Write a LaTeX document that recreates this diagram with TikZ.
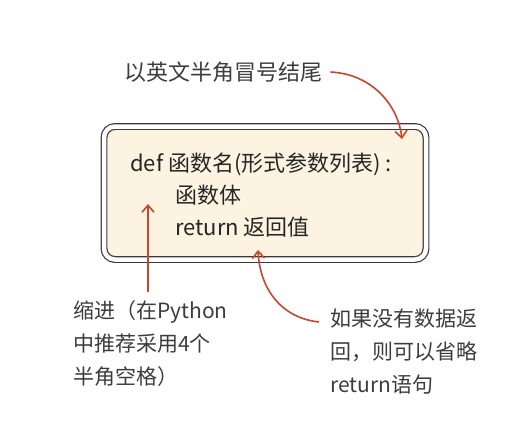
\documentclass[tikz,border=0pt]{standalone}
\usepackage{fontspec}
\setmainfont{Noto Sans CJK SC}
\usetikzlibrary{arrows.meta}
\definecolor{cream}{HTML}{FCF4E0}
\definecolor{frameg}{HTML}{3A3A3A}
\definecolor{notegray}{HTML}{3C3C3C}
\definecolor{pointer}{HTML}{C9452E}

\begin{document}
\begin{tikzpicture}[x=1pt, y=-1pt,
  frame/.style={draw=frameg, line width=1.2pt, double=white, double distance=4.5pt, rounded corners=11pt, fill=cream, minimum width=322pt, minimum height=133pt},
  code/.style={anchor=base west, inner sep=0pt, text=black!85, font=\fontsize{22}{26}\selectfont},
  remark/.style={anchor=north west, inner sep=0pt, align=left, text=notegray, font=\fontsize{21}{33}\selectfont},
  arr/.style={-{Straight Barb[length=7pt,width=12pt]}, draw=pointer, line width=1.6pt}
]
\useasboundingbox (0,0) rectangle (532,421);

\node[frame] (box) at (265,193) {};
\node[code] (head) at (130,171) {def 函数名(形式参数列表) :};
\node[code] (body) at (175,203) {函数体};
\node[code] (ret) at (175,235) {return 返回值};

\node[remark, anchor=west, font=\fontsize{22}{26}\selectfont] (colon) at (124,72) {以英文半角冒号结尾};
\node[remark] (indent) at (73,300) {缩进（在Python\\中推荐采用4个\\半角空格）};
\node[remark] (noret) at (330,309) {如果没有数据返\\回，则可以省略\\return语句};

\coordinate (colontip) at (402,139);
\coordinate (indenttip) at (148,204);
\coordinate (rettip) at (258,250);
\coordinate (indentfoot) at (148,292);
\coordinate (noretfoot) at (319,322);

\draw[arr] (colon.east) ++(8,0) .. controls (372,74) and (398,105) .. (colontip);
\draw[arr] (indentfoot) -- (indenttip);
\draw[arr] (noretfoot) .. controls (282,318) and (260,290) .. (rettip);
\end{tikzpicture}
\end{document}
